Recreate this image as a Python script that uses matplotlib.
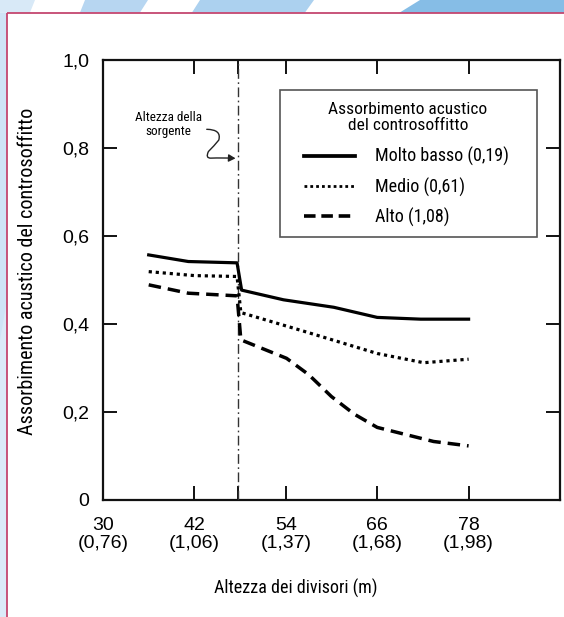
import matplotlib
matplotlib.use("Agg")
import matplotlib.pyplot as plt
from matplotlib import font_manager as fm
from matplotlib.patches import Polygon, Rectangle, FancyArrowPatch
from matplotlib.path import Path
from matplotlib.lines import Line2D

# ---------------- data ----------------
x_solid = [36.0, 41.2, 47.6, 48.2, 53.7, 60.3, 66.0, 71.7, 78.0]
y_solid = [0.557, 0.542, 0.539, 0.477, 0.455, 0.438, 0.415, 0.411, 0.411]

x_dot = [36.0, 42.0, 47.6, 48.1, 55.9, 66.0, 72.1, 78.0]
y_dot = [0.519, 0.510, 0.508, 0.426, 0.386, 0.333, 0.312, 0.320]

x_dash = [36.0, 41.2, 47.6, 48.1, 54.1, 57.0, 60.0, 63.0, 66.0, 69.0, 73.4, 78.0]
y_dash = [0.489, 0.470, 0.464, 0.364, 0.322, 0.285, 0.235, 0.195, 0.165, 0.152, 0.133, 0.123]

series_labels = ["Molto basso (0,19)", "Medio (0,61)", "Alto (1,08)"]
legend_title = "Assorbimento acustico\ndel controsoffitto"

source_x = 47.7
xticks = [30, 42, 54, 66, 78]
xtick_labels = ["30\n(0,76)", "42\n(1,06)", "54\n(1,37)", "66\n(1,68)", "78\n(1,98)"]
yticks = [0, 0.2, 0.4, 0.6, 0.8, 1.0]
ytick_labels = ["0", "0,2", "0,4", "0,6", "0,8", "1,0"]

xlabel = "Altezza dei divisori (m)"
ylabel = "Assorbimento acustico del controsoffitto"
annot = "Altezza della\nsorgente"

# ---------------- fonts ----------------
def pick(names, default="DejaVu Sans"):
    for n in names:
        try:
            fm.findfont(fm.FontProperties(family=n), fallback_to_default=False)
            return n
        except Exception:
            pass
    return default

narrow = pick(["Liberation Sans Narrow", "DejaVu Sans Condensed", "Roboto Condensed"])
regular = pick(["Liberation Sans", "Arial", "DejaVu Sans"])
plt.rcParams["font.family"] = [regular, "DejaVu Sans"]

W, H = 564, 617
fig = plt.figure(figsize=(W / 100, H / 100), dpi=100)
fig.patch.set_facecolor("white")

# ---------------- decorative background ----------------
bg = fig.add_axes([0, 0, 1, 1], zorder=0)
bg.set_xlim(0, W)
bg.set_ylim(H, 0)
bg.axis("off")
stripes = [
    ([(0, 0), (35, 0), (30, 12.5), (0, 12.5)], "#d8e9f7"),
    ([(85, 0), (148, 0), (140, 12.5), (80, 12.5)], "#b7d6f1"),
    ([(200, 0), (314, 0), (305, 12.5), (192, 12.5)], "#acd1ef"),
    ([(420, 0), (564, 0), (564, 12.5), (399, 12.5)], "#86bde6"),
    ([(0, 12.5), (7, 12.5), (7, 617), (0, 617)], "#dbeaf8"),
    ([(0, 12.5), (7, 12.5), (7, 300), (0, 340)], "#cfe4f6"),
]
for pts, c in stripes:
    bg.add_patch(Polygon(pts, closed=True, facecolor=c, edgecolor="none"))
bg.plot([7, 564], [12.5, 12.5], color="#c4466f", lw=1.3, solid_capstyle="butt")
bg.plot([7, 7], [12.5, 617], color="#c4466f", lw=1.3, solid_capstyle="butt")

# ---------------- main axes ----------------
ax = fig.add_axes([103 / W, 1 - 500 / H, 457 / W, 440 / H], zorder=2)
ax.set_facecolor("white")
ax.set_xlim(30, 90)
ax.set_ylim(0, 1.0)

lw_main = 2.3
ax.plot(x_solid, y_solid, color="black", lw=lw_main, solid_joinstyle="round", zorder=4)
ax.plot(x_dot, y_dot, color="black", lw=lw_main, linestyle=(0, (1, 1.2)), zorder=4)
ax.plot(x_dash, y_dash, color="black", lw=lw_main + 0.2, linestyle=(0, (3.6, 2.0)), zorder=4)

ax.axvline(source_x, color="#333333", lw=1.0, linestyle=(0, (7, 2.5, 1.2, 2.5)), zorder=3)

for s in ax.spines.values():
    s.set_linewidth(1.6)
    s.set_color("#111111")

ax.set_xticks(xticks)
ax.set_xticklabels(xtick_labels, fontsize=14, family=[regular, "DejaVu Sans"])
for t in ax.get_xticklabels():
    t.set_linespacing(1.12)
ax.set_xticks([source_x], minor=True)
ax.set_yticks(yticks)
ax.set_yticklabels(ytick_labels, fontsize=14, family=[regular, "DejaVu Sans"])
ax.tick_params(axis="both", which="both", direction="in", length=10, width=1.4,
               top=True, right=True, color="#111111")
ax.tick_params(axis="x", which="major", pad=12)
ax.tick_params(axis="y", which="major", pad=10)

# annotation
ax.text(38.55, 0.853, annot, ha="center", va="center", fontsize=9.5,
        family=[narrow, "DejaVu Sans"], linespacing=1.05, zorder=5)
verts = [(43.62, 0.8425), (45.6, 0.842), (45.2, 0.818),
         (44.6, 0.805), (43.84, 0.792),
         (43.4, 0.776), (44.2, 0.777),
         (45.6, 0.778), (47.4, 0.7765)]
codes = [Path.MOVETO, Path.CURVE3, Path.CURVE3,
         Path.CURVE3, Path.CURVE3,
         Path.CURVE3, Path.CURVE3,
         Path.CURVE3, Path.CURVE3]
arrow = FancyArrowPatch(path=Path(verts, codes), arrowstyle="-|>,head_length=4,head_width=2.2",
                        color="#222222", lw=1.0, transform=ax.transData, zorder=5)
ax.add_patch(arrow)

# legend box
ax.add_patch(Rectangle((0.387, 0.598), 0.563, 0.334, transform=ax.transAxes,
                       facecolor="white", edgecolor="#555555", lw=1.2, zorder=3))
ax.text(0.667, 0.869, legend_title, transform=ax.transAxes, ha="center", va="center",
        fontsize=12.5, family=[narrow, "DejaVu Sans"], linespacing=1.05, zorder=5)
handles = [
    Line2D([], [], color="black", lw=lw_main + 0.4),
    Line2D([], [], color="black", lw=lw_main - 0.3, linestyle=(0, (1, 1.1))),
    Line2D([], [], color="black", lw=lw_main + 0.3, linestyle=(0, (3.2, 1.6))),
]
leg = ax.legend(handles, series_labels, loc="upper left", bbox_to_anchor=(0.4405, 0.802),
                frameon=False, borderpad=0, borderaxespad=0, handlelength=2.8,
                handletextpad=1.1, labelspacing=0.62,
                prop=fm.FontProperties(family=[narrow, "DejaVu Sans"], size=13))
leg.set_zorder(6)

# axis labels
fig.text(296 / W, (H - 588) / H, xlabel, ha="center", va="center", fontsize=13,
         family=[narrow, "DejaVu Sans"])
fig.text(28 / W, (H - 271) / H, ylabel, ha="center", va="center", rotation=90,
         fontsize=14.5, family=[narrow, "DejaVu Sans"])

fig.savefig("out.png", dpi=100, facecolor="white")
